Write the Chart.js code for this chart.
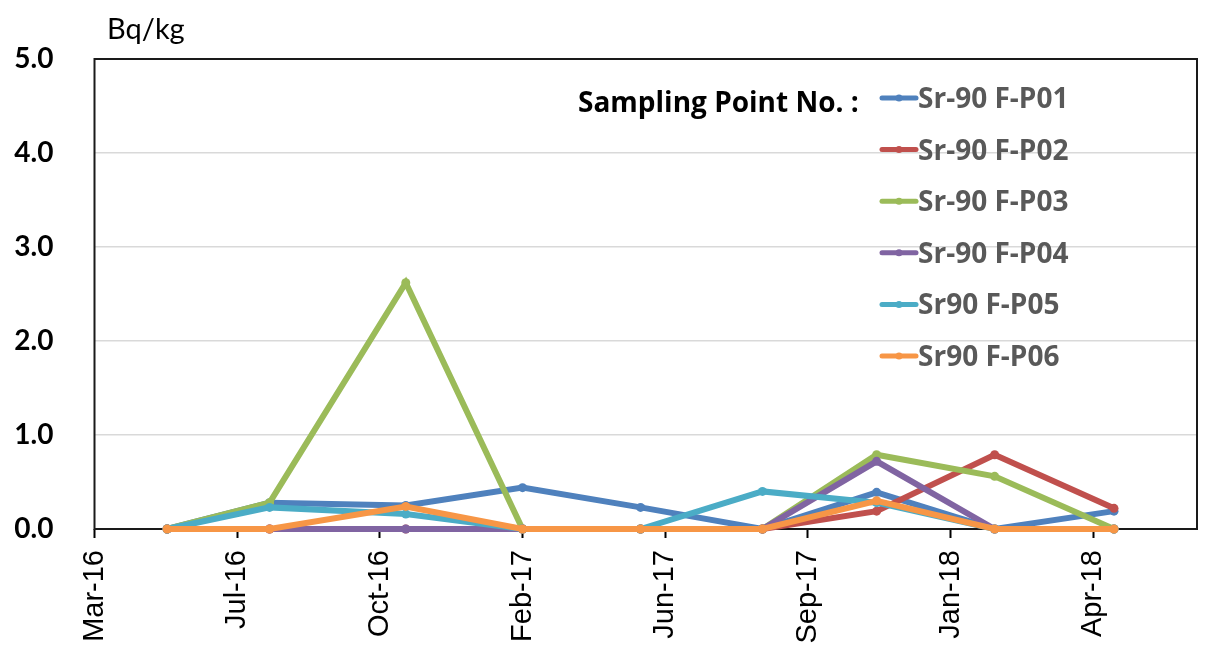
<!DOCTYPE html>
<html>
<head>
<meta charset="utf-8">
<script src="https://cdn.jsdelivr.net/npm/chart.js@4.4.1/dist/chart.umd.min.js"></script>
<style>
  html, body { margin: 0; padding: 0; background: #fff; }
  #contenedor { width: 1206px; height: 650px; position: relative; }
</style>
</head>
<body>
<div id="contenedor"><canvas id="grafico"></canvas></div>
<script>
// Fechas de muestreo
const fechas = ['2016-05-16', '2016-08-03', '2016-11-16', '2017-02-14', '2017-05-16',
                '2017-08-18', '2017-11-14', '2018-02-13', '2018-05-16'];

// Valores por punto de muestreo (Bq/kg)
const fP01 = [0, 0.28, 0.25, 0.44, 0.23, 0, 0.39, 0, 0.19];
const fP02 = [0, 0, 0, 0, 0, 0, 0.19, 0.79, 0.22];
const fP03 = [0, 0.28, 2.62, 0, 0, 0, 0.79, 0.56, 0];
const fP04 = [0, 0, 0, 0, 0, 0, 0.72, 0, 0];
const fP05 = [0, 0.23, 0.16, 0, 0, 0.40, 0.28, 0, 0];
const fP06 = [0, 0, 0.24, 0, 0, 0, 0.30, 0, 0];

const nombres = ['Sr-90 F-P01', 'Sr-90 F-P02', 'Sr-90 F-P03', 'Sr-90 F-P04', 'Sr90 F-P05', 'Sr90 F-P06'];
const colores = ['#4F81BD', '#C0504D', '#9BBB59', '#8064A2', '#4BACC6', '#F79646'];

// Eje X (fechas): etiquetas cada 110 dias desde el inicio
const etiquetasX = ['Mar-16', 'Jul-16', 'Oct-16', 'Feb-17', 'Jun-17', 'Sep-17', 'Jan-18', 'Apr-18'];
const inicioEje = '2016-03-21';
const finEje = '2018-07-19';
const pasoDias = 110;

// Eje Y
const valoresY = [0, 1, 2, 3, 4, 5];

const dia = s => Date.UTC(+s.slice(0, 4), +s.slice(5, 7) - 1, +s.slice(8, 10)) / 86400000;
const x0 = dia(inicioEje);
const xs = fechas.map(f => dia(f) - x0);

const series = [fP01, fP02, fP03, fP04, fP05, fP06];

// Marco del area de trazado
const marco = {
  id: 'marco',
  beforeDatasetsDraw(chart) {
    const { ctx, chartArea: a } = chart;
    ctx.save();
    ctx.strokeStyle = '#1a1a1a';
    ctx.lineWidth = 2;
    ctx.strokeRect(a.left, a.top, a.right - a.left, a.bottom - a.top);
    ctx.restore();
  }
};

// Titulo de unidades y leyenda dentro del grafico
const leyenda = {
  id: 'leyenda',
  afterDraw(chart) {
    const ctx = chart.ctx;
    ctx.save();
    ctx.textBaseline = 'alphabetic';
    ctx.fillStyle = '#000';
    ctx.font = '29px Lato';
    ctx.fillText('Bq/kg', 107, 39);

    ctx.font = 'bold 28px "Open Sans"';
    ctx.fillText('Sampling Point No. :', 578, 112);

    chart.data.datasets.forEach((ds, i) => {
      const y = 98 + i * 51.6;
      ctx.strokeStyle = ds.borderColor;
      ctx.lineWidth = 5;
      ctx.lineCap = 'round';
      ctx.beginPath();
      ctx.moveTo(882, y);
      ctx.lineTo(916, y);
      ctx.stroke();
      ctx.fillStyle = ds.borderColor;
      ctx.beginPath();
      ctx.arc(899, y, 3.5, 0, Math.PI * 2);
      ctx.fill();
      ctx.fillStyle = '#595959';
      ctx.font = 'bold 28px "Open Sans"';
      ctx.fillText(ds.label, 918, y + 10);
    });
    ctx.restore();
  }
};

new Chart(document.getElementById('grafico'), {
  type: 'line',
  data: {
    datasets: series.map((vals, i) => ({
      label: nombres[i],
      data: vals.map((v, j) => ({ x: xs[j], y: v })),
      borderColor: colores[i],
      backgroundColor: colores[i],
      borderWidth: 6,
      pointRadius: 4.5,
      pointHoverRadius: 4.5,
      pointBorderWidth: 0,
      fill: false,
      tension: 0,
      clip: false,
      order: series.length - i
    }))
  },
  options: {
    responsive: true,
    maintainAspectRatio: false,
    animation: false,
    layout: { padding: { top: 59, right: 9, left: 0, bottom: 0 } },
    plugins: {
      legend: { display: false },
      tooltip: { enabled: false }
    },
    scales: {
      x: {
        type: 'linear',
        min: 0,
        max: dia(finEje) - x0,
        afterBuildTicks: axis => {
          axis.ticks = etiquetasX.map((_, i) => ({ value: i * pasoDias }));
        },
        afterFit: scale => { scale.height = 121; },
        grid: {
          drawOnChartArea: false,
          drawTicks: true,
          tickLength: 9,
          tickColor: '#000',
          tickWidth: 2
        },
        border: { display: false },
        ticks: {
          autoSkip: false,
          minRotation: 90,
          maxRotation: 90,
          padding: 12,
          color: '#000',
          font: { family: 'Liberation Sans', size: 29 },
          callback: (v, i) => etiquetasX[i]
        }
      },
      y: {
        min: 0,
        max: 5,
        afterBuildTicks: axis => {
          axis.ticks = valoresY.map(v => ({ value: v }));
        },
        afterFit: scale => { scale.width = 94.5; },
        grid: {
          color: '#d9d9d9',
          lineWidth: 1.5,
          drawTicks: false
        },
        border: { display: false },
        ticks: {
          padding: 41,
          color: '#000',
          font: { family: 'Lato', size: 28, weight: 'bold' },
          callback: v => v.toFixed(1)
        }
      }
    }
  },
  plugins: [marco, leyenda]
});
</script>
</body>
</html>
